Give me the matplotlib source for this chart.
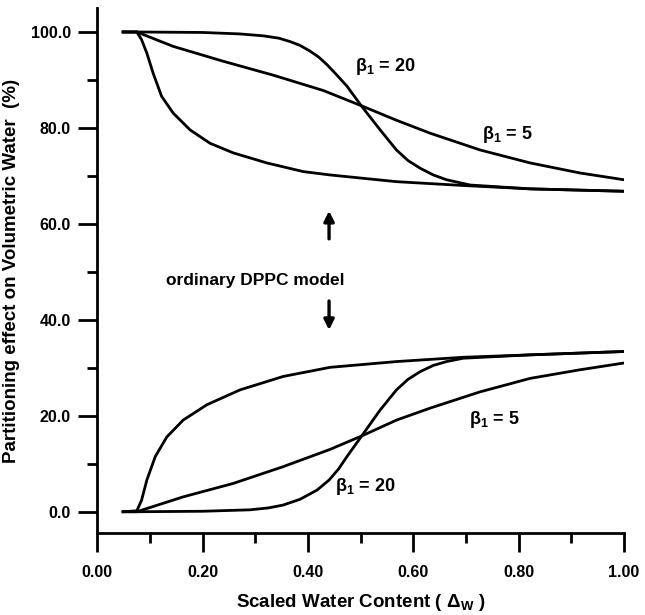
#!/usr/bin/python3

import matplotlib
matplotlib.use('Agg')
import matplotlib.pyplot as plt
from matplotlib.ticker import MultipleLocator, FormatStrFormatter


# partitioning effect, upper group
top_fast_x = [0.049, 0.075, 0.084, 0.094, 0.106, 0.122, 0.144, 0.176, 0.214, 0.258,
			  0.322, 0.391, 0.442, 0.568, 0.695, 0.822, 1.0]
top_fast_y = [100.0, 100.0, 98.4, 95.6, 91.4, 86.6, 83.1, 79.6, 76.8, 74.8,
			  72.7, 70.9, 70.2, 68.8, 68.0, 67.3, 66.8]

top_b5_x = [0.049, 0.075, 0.144, 0.239, 0.334, 0.429, 0.502, 0.568, 0.632, 0.727,
			0.822, 0.917, 1.0]
top_b5_y = [100.0, 100.0, 97.0, 93.9, 91.0, 87.8, 84.6, 81.6, 78.9, 75.4,
			72.7, 70.6, 69.2]

top_b20_x = [0.049, 0.075, 0.20, 0.27, 0.315, 0.345, 0.366, 0.385, 0.404, 0.420,
			 0.436, 0.455, 0.474, 0.502, 0.537, 0.568, 0.590, 0.613, 0.638, 0.663,
			 0.708, 0.822, 1.0]
top_b20_y = [100.0, 100.0, 99.9, 99.6, 99.2, 98.7, 98.0, 97.2, 96.0, 94.8,
			 93.2, 91.0, 88.7, 84.5, 79.6, 75.4, 73.2, 71.6, 70.2, 69.2,
			 68.1, 67.3, 66.8]

# partitioning effect, lower group
bot_fast_x = [0.049, 0.075, 0.084, 0.094, 0.110, 0.132, 0.163, 0.208, 0.271, 0.353,
			  0.442, 0.568, 0.695, 0.822, 1.0]
bot_fast_y = [0.0, 0.2, 2.4, 6.6, 11.5, 15.6, 19.1, 22.3, 25.4, 28.2,
			  30.1, 31.3, 32.2, 32.7, 33.4]

bot_b5_x = [0.049, 0.075, 0.163, 0.258, 0.353, 0.442, 0.502, 0.568, 0.632, 0.727,
			0.822, 0.917, 1.0]
bot_b5_y = [0.0, 0.0, 3.1, 5.9, 9.4, 13.0, 15.8, 19.1, 21.6, 25.0,
			27.8, 29.6, 31.0]

bot_b20_x = [0.049, 0.075, 0.20, 0.29, 0.325, 0.353, 0.385, 0.417, 0.440, 0.458,
			 0.474, 0.502, 0.537, 0.568, 0.590, 0.613, 0.638, 0.663, 0.695, 0.822, 1.0]
bot_b20_y = [0.0, 0.0, 0.1, 0.4, 0.8, 1.4, 2.6, 4.5, 6.6, 8.9,
			 11.5, 15.8, 21.2, 25.4, 27.6, 29.2, 30.5, 31.3, 32.0, 32.7, 33.4]

x_ticks = [0.0, 0.2, 0.4, 0.6, 0.8, 1.0]
y_ticks = [0.0, 20.0, 40.0, 60.0, 80.0, 100.0]


def main():
	''' main function'''

	plt.rcParams['font.family'] = ['Liberation Sans', 'DejaVu Sans']
	plt.rcParams['font.weight'] = 'bold'
	plt.rcParams['axes.labelweight'] = 'bold'
	plt.rcParams['mathtext.fontset'] = 'custom'
	plt.rcParams['mathtext.rm'] = 'Liberation Sans:bold'
	plt.rcParams['mathtext.it'] = 'Liberation Sans:bold'
	plt.rcParams['mathtext.bf'] = 'Liberation Sans:bold'

	fig = plt.figure()
	fig.set_size_inches(6.45, 6.15)
	ax = fig.add_axes([0.1509, 0.1328, 0.9674 - 0.1509, 0.987 - 0.1328])

	lw = 2.0
	for xs, ys in [(top_fast_x, top_fast_y), (top_b5_x, top_b5_y), (top_b20_x, top_b20_y),
				   (bot_fast_x, bot_fast_y), (bot_b5_x, bot_b5_y), (bot_b20_x, bot_b20_y)]:
		ax.plot(xs, ys, color='black', linewidth=lw, solid_joinstyle='round')

	# axes: only left and bottom
	ax.set_xlim(0.0, 1.0)
	ax.set_ylim(-4.5, 105.0)
	ax.spines['top'].set_visible(False)
	ax.spines['right'].set_visible(False)
	ax.spines['left'].set_linewidth(2.0)
	ax.spines['bottom'].set_linewidth(2.0)

	ax.set_xticks(x_ticks)
	ax.set_yticks(y_ticks)
	ax.xaxis.set_minor_locator(MultipleLocator(0.1))
	ax.yaxis.set_minor_locator(MultipleLocator(10))
	ax.xaxis.set_major_formatter(FormatStrFormatter('%.2f'))
	ax.yaxis.set_major_formatter(FormatStrFormatter('%.1f'))
	ax.tick_params(which='major', direction='out', length=14, width=2.0, labelsize=11.5)
	ax.tick_params(axis='x', which='major', pad=9)
	ax.tick_params(axis='y', which='major', pad=5)
	ax.tick_params(which='minor', direction='out', length=7, width=2.0)

	# labels on the curves
	fs = 13
	ax.text(0.489, 92.8, r'β$_{1}$ = 20', fontsize=fs, va='center', ha='left')
	ax.text(0.730, 78.6, r'β$_{1}$ = 5', fontsize=fs, va='center', ha='left')
	ax.text(0.706, 19.3, r'β$_{1}$ = 5', fontsize=fs, va='center', ha='left')
	ax.text(0.451, 5.2, r'β$_{1}$ = 20', fontsize=fs, va='center', ha='left')

	# ordinary model note with arrows
	ax.text(0.130, 48.3, 'ordinary DPPC model', fontsize=12.5, va='center', ha='left')
	ax.annotate('', xy=(0.440, 63.3), xytext=(0.440, 56.3),
				arrowprops=dict(arrowstyle='-|>', lw=2.4, color='black', mutation_scale=15))
	ax.annotate('', xy=(0.440, 37.3), xytext=(0.440, 44.5),
				arrowprops=dict(arrowstyle='-|>', lw=2.4, color='black', mutation_scale=15))

	ax.set_xlabel(r'Scaled Water Content ( Δ$_{\mathrm{W}}$ )', fontsize=13.5)
	ax.set_ylabel('Partitioning effect on Volumetric Water  (%)', fontsize=13.5)
	ax.xaxis.set_label_coords(0.5, -0.112)
	ax.yaxis.set_label_coords(-0.147, 0.5)

	plt.savefig('out.png', dpi=100)
	plt.close()

	return


if __name__ == '__main__':
	main()
